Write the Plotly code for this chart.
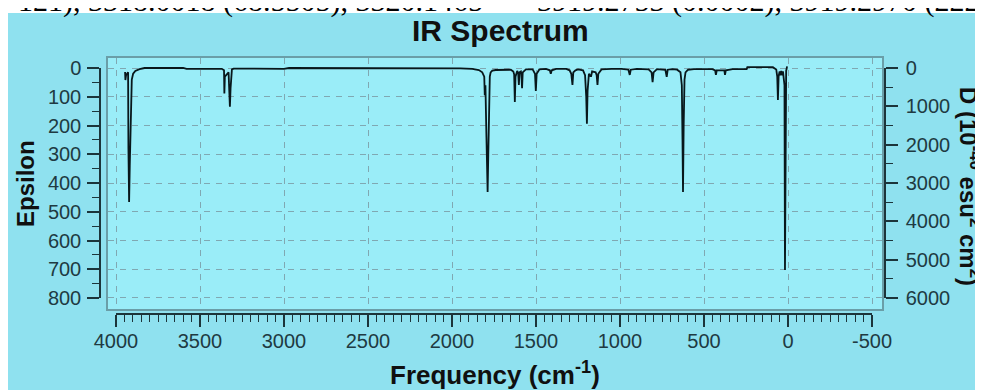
import plotly.graph_objects as go

# ---------------- data ----------------
freq = [3946, 3944, 3940, 3928, 3926, 3922, 3918, 3908, 3906, 3898, 3885, 3860, 3830,
        3600, 3580, 3370, 3357, 3355, 3352, 3330, 3326, 3322, 3318, 3313, 3310, 3300,
        3000, 2970, 2050, 1950, 1880, 1840, 1820, 1808, 1805, 1801, 1795, 1792, 1788,
        1784, 1778, 1775, 1770, 1760, 1740, 1700, 1650, 1635, 1630, 1626, 1622, 1612,
        1606, 1602, 1598, 1590, 1587, 1583, 1579, 1560, 1520, 1506, 1501, 1496, 1480,
        1440, 1418, 1412, 1406, 1380, 1320, 1300, 1290, 1283, 1278, 1265, 1250, 1220,
        1208, 1201, 1197, 1193, 1185, 1176, 1172, 1166, 1145, 1139, 1134, 1129, 1110,
        1050, 990, 950, 942, 936, 900, 830, 812, 806, 800, 780, 730, 722, 716, 690,
        660, 640, 632, 628, 625, 621, 616, 610, 595, 560, 450, 434, 429, 424, 385,
        379, 375, 370, 330, 300, 246, 242, 90, 70, 64, 60, 56, 50, 46, 40, 34, 30,
        26, 21, 18, 15, 11, 6, 2]
epsilon = [14, 42, 25, 15, 280, 466, 340, 135, 40, 20, 10, 4, 0,
           0, 3, 3, 8, 89, 30, 15, 60, 135, 70, 20, 5, 2,
           3, 0, 0, 1, 3, 7, 15, 30, 95, 60, 240, 310, 431,
           300, 60, 30, 15, 9, 7, 6, 6, 12, 22, 118, 30, 10,
           18, 59, 15, 12, 22, 70, 15, 5, 5, 20, 80, 20, 5,
           3, 8, 20, 8, 3, 3, 8, 20, 59, 15, 8, 5, 8,
           25, 100, 194, 80, 20, 28, 28, 12, 15, 25, 59, 20, 5,
           3, 3, 6, 24, 6, 3, 5, 15, 49, 15, 4, 6, 31, 6, 4,
           6, 15, 60, 250, 431, 200, 40, 15, 6, 4, 4, 8, 24, 8, 8,
           8, 24, 8, 4, 4, 4, -3, -3, 5, 30, 111, 30, 12, 25, 10, 25, 12,
           30, 60, 703, 30, 10, -3, -3]

freq_ticks = [4000, 3500, 3000, 2500, 2000, 1500, 1000, 500, 0, -500]
eps_ticks = [0, 100, 200, 300, 400, 500, 600, 700, 800]
d_ticks = [0, 1000, 2000, 3000, 4000, 5000, 6000]

# ---------------- geometry helpers ----------------
# the page body adds an 8 px offset, so margins are expressed in page pixels minus 8
W, H = 983, 390
OFF = 8
ML, MR, MT, MB = 100 - OFF, W - (885 - OFF), 58 - OFF, H - (314 - OFF)
PW, PH = W - ML - MR, H - MT - MB


def px(p):  # page x pixel -> paper
    return (p - OFF - ML) / PW


def py(p):  # page y pixel -> paper
    return (H - MB - (p - OFF)) / PH


OUTER = "#8fe1ef"
INNER = "#9aedf8"
FRAME = "#6a9ea8"
GRID = "#80a8b2"
DARK = "#1c343a"
LBL = "#203a42"
FONT = "Arial, Liberation Sans, sans-serif"

fig = go.Figure()
fig.add_trace(go.Scatter(x=freq, y=epsilon, mode="lines",
                         line=dict(color="#08171b", width=1.8),
                         hoverinfo="skip", showlegend=False))
# helper traces so that the detached tick axes get drawn
fig.add_trace(go.Scatter(x=[freq_ticks[0], freq_ticks[-1]], y=[eps_ticks[0], eps_ticks[-1]],
                         xaxis="x2", yaxis="y2", mode="markers",
                         marker=dict(opacity=0), hoverinfo="skip", showlegend=False))
fig.add_trace(go.Scatter(x=[freq_ticks[0], freq_ticks[-1]], y=[d_ticks[0], d_ticks[-1]],
                         xaxis="x2", yaxis="y3", mode="markers",
                         marker=dict(opacity=0), hoverinfo="skip", showlegend=False))

tick_font = dict(family=FONT, size=20, color=LBL)

fig.update_layout(
    width=W, height=H,
    margin=dict(l=ML, r=MR, t=MT, b=MB, pad=0, autoexpand=False),
    paper_bgcolor="white",
    plot_bgcolor="rgba(0,0,0,0)",
    xaxis=dict(domain=[px(108), px(882)], range=[4047.6, -559.5], automargin=False,
               showticklabels=False, ticks="", tick0=0, dtick=500,
               showgrid=True, gridcolor=GRID, griddash="6px,6px", gridwidth=1,
               zeroline=False, showline=True, mirror=True, linecolor=FRAME, linewidth=1.5,
               anchor="y"),
    yaxis=dict(domain=[py(309), 1], range=[838.3, -34.8], automargin=False,
               showticklabels=False, ticks="", tick0=0, dtick=100,
               showgrid=True, gridcolor=GRID, griddash="6px,6px", gridwidth=1,
               zeroline=False, showline=True, mirror=True, linecolor=FRAME, linewidth=1.5,
               anchor="x"),
    xaxis2=dict(domain=[px(116), px(872)], range=[freq_ticks[0], freq_ticks[-1]],
                anchor="free", position=0, side="bottom", automargin=False,
                tickvals=freq_ticks, ticktext=[str(v) for v in freq_ticks],
                ticks="outside", ticklen=12, tickwidth=1.5, tickcolor=DARK,
                minor=dict(dtick=50, tick0=0, ticks="outside", ticklen=7, tickwidth=1.2, tickcolor=DARK),
                showline=True, linecolor=DARK, linewidth=1.5,
                showgrid=False, zeroline=False, tickfont=tick_font, ticklabelstandoff=-3),
    yaxis2=dict(domain=[py(298), py(68)], range=[eps_ticks[-1], eps_ticks[0]],
                anchor="free", position=0, side="left", automargin=False,
                tickvals=eps_ticks, ticktext=[str(v) for v in eps_ticks],
                ticks="outside", ticklen=12, tickwidth=1.5, tickcolor=DARK,
                minor=dict(dtick=50, tick0=0, ticks="outside", ticklen=7, tickwidth=1.2, tickcolor=DARK),
                showline=True, linecolor=DARK, linewidth=1.5,
                showgrid=False, zeroline=False, tickfont=tick_font, ticklabelstandoff=2),
    yaxis3=dict(overlaying="y2", range=[d_ticks[-1], d_ticks[0]],
                anchor="free", position=1, side="right", automargin=False,
                tickvals=d_ticks, ticktext=[str(v) for v in d_ticks],
                ticks="outside", ticklen=12, tickwidth=1.5, tickcolor=DARK,
                minor=dict(dtick=500, tick0=0, ticks="outside", ticklen=7, tickwidth=1.2, tickcolor=DARK),
                showline=True, linecolor=DARK, linewidth=1.5,
                showgrid=False, zeroline=False, tickfont=tick_font, ticklabelstandoff=4),
    shapes=[
        dict(type="rect", xref="paper", yref="paper", layer="below",
             x0=px(8), x1=px(1000), y0=py(410), y1=py(13),
             fillcolor=OUTER, line=dict(width=0)),
        dict(type="rect", xref="paper", yref="paper", layer="below",
             x0=px(108), x1=px(882), y0=py(309), y1=py(58),
             fillcolor=INNER, line=dict(width=0)),
    ],
    annotations=[
        dict(text="<b>IR Spectrum</b>", xref="paper", yref="paper",
             x=px(500), y=py(30), xanchor="center", yanchor="middle", showarrow=False,
             font=dict(family=FONT, size=30, color="#101010")),
        dict(text="<b>Epsilon</b>", xref="paper", yref="paper", textangle=-90,
             x=px(25), y=py(184), xanchor="center", yanchor="middle", showarrow=False,
             font=dict(family=FONT, size=24, color="#101010")),
        dict(text="<b>Frequency (cm<sup>-1</sup>)</b>", xref="paper", yref="paper",
             x=px(495), y=py(373), xanchor="center", yanchor="middle", showarrow=False,
             font=dict(family=FONT, size=26, color="#101010")),
        dict(text="<b>D (10<sup>-40</sup> esu<sup>2</sup> cm<sup>2</sup>)</b>", xref="paper", yref="paper",
             textangle=90, x=px(970), y=py(186), xanchor="center", yanchor="middle", showarrow=False,
             font=dict(family=FONT, size=24, color="#101010")),
        dict(text="121), 3318.0018 (68.5505), 3320.1465", xref="paper", yref="paper",
             x=px(485), y=py(1), xanchor="right", yanchor="middle", showarrow=False,
             font=dict(family="Liberation Serif, serif", size=30, color="black")),
        dict(text="3919.2753 (0.0002), 3919.2970 (222.5", xref="paper", yref="paper",
             x=px(535), y=py(1), xanchor="left", yanchor="middle", showarrow=False,
             font=dict(family="Liberation Serif, serif", size=30, color="black")),
    ],
)

fig.write_html("out.html")
